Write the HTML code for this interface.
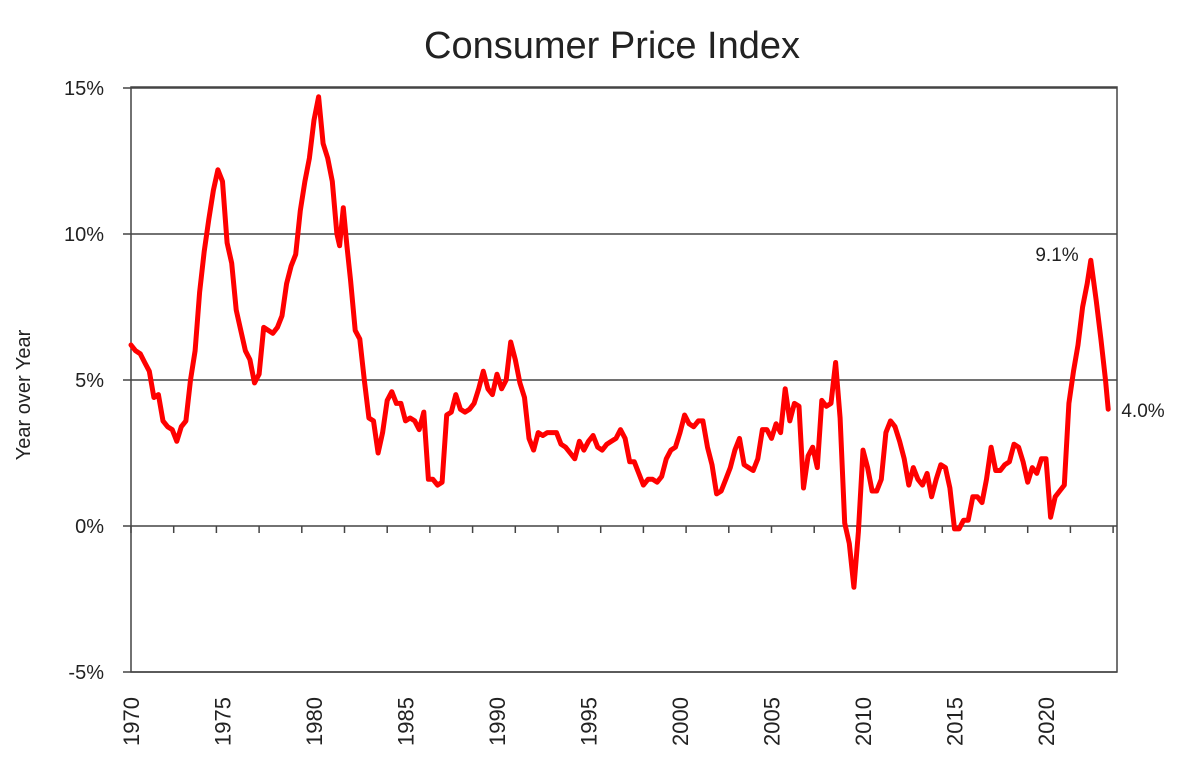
<!DOCTYPE html>
<html><head><meta charset="utf-8"><style>
body{margin:0;background:#fff;}
svg text{font-family:"Liberation Sans",sans-serif;fill:#222;}
</style></head><body>
<svg id="chart" width="1188" height="768" xmlns="http://www.w3.org/2000/svg">
<text x="612" y="58" font-size="38" text-anchor="middle">Consumer Price Index</text>
<text transform="translate(30,395) rotate(-90)" font-size="20" text-anchor="middle">Year over Year</text>
<g id="grid"></g><g id="axes"></g><g id="series"></g>
<text x="1057" y="261" font-size="19" text-anchor="middle">9.1%</text>
<text x="1143" y="417" font-size="19" text-anchor="middle">4.0%</text>
</svg>
<script>
const years=[1970,1970.25,1970.5,1970.75,1971,1971.25,1971.5,1971.75,1972,1972.25,1972.5,1972.75,1973,1973.25,1973.5,1973.75,1974,1974.25,1974.5,1974.75,1975,1975.25,1975.5,1975.75,1976,1976.25,1976.5,1976.75,1977,1977.25,1977.5,1977.75,1978,1978.25,1978.5,1978.75,1979,1979.25,1979.5,1979.75,1980,1980.25,1980.5,1980.75,1981,1981.25,1981.4,1981.6,1981.8,1982,1982.25,1982.5,1982.75,1983,1983.25,1983.5,1983.75,1984,1984.25,1984.5,1984.75,1985,1985.25,1985.5,1985.75,1986,1986.25,1986.5,1986.75,1987,1987.25,1987.5,1987.75,1988,1988.25,1988.5,1988.75,1989,1989.25,1989.5,1989.75,1990,1990.25,1990.5,1990.75,1991,1991.25,1991.5,1991.75,1992,1992.25,1992.5,1992.75,1993,1993.25,1993.5,1993.75,1994,1994.25,1994.5,1994.75,1995,1995.25,1995.5,1995.75,1996,1996.25,1996.5,1996.75,1997,1997.25,1997.5,1997.75,1998,1998.25,1998.5,1998.75,1999,1999.25,1999.5,1999.75,2000,2000.25,2000.5,2000.75,2001,2001.25,2001.5,2001.75,2002,2002.25,2002.5,2002.75,2003,2003.25,2003.5,2003.75,2004,2004.25,2004.5,2004.75,2005,2005.25,2005.5,2005.75,2006,2006.25,2006.5,2006.75,2007,2007.25,2007.5,2007.75,2008,2008.25,2008.5,2008.75,2009,2009.25,2009.5,2009.75,2010,2010.25,2010.5,2010.75,2011,2011.25,2011.5,2011.75,2012,2012.25,2012.5,2012.75,2013,2013.25,2013.5,2013.75,2014,2014.25,2014.5,2014.75,2015,2015.25,2015.5,2015.75,2016,2016.25,2016.5,2016.75,2017,2017.25,2017.5,2017.75,2018,2018.25,2018.5,2018.75,2019,2019.25,2019.5,2019.75,2020,2020.25,2020.5,2020.75,2021,2021.25,2021.5,2021.75,2022,2022.25,2022.45,2022.75,2023,2023.25,2023.4];
const cpi=[6.2,6.0,5.9,5.6,5.3,4.4,4.5,3.6,3.4,3.3,2.9,3.4,3.6,5.0,6.0,8.0,9.4,10.5,11.5,12.2,11.8,9.7,9.0,7.4,6.7,6.0,5.7,4.9,5.2,6.8,6.7,6.6,6.8,7.2,8.3,8.9,9.3,10.8,11.8,12.6,13.9,14.7,13.1,12.6,11.8,10.0,9.6,10.9,9.6,8.4,6.7,6.4,5.0,3.7,3.6,2.5,3.2,4.3,4.6,4.2,4.2,3.6,3.7,3.6,3.3,3.9,1.6,1.6,1.4,1.5,3.8,3.9,4.5,4.0,3.9,4.0,4.2,4.7,5.3,4.7,4.5,5.2,4.7,5.0,6.3,5.7,4.9,4.4,3.0,2.6,3.2,3.1,3.2,3.2,3.2,2.8,2.7,2.5,2.3,2.9,2.6,2.9,3.1,2.7,2.6,2.8,2.9,3.0,3.3,3.0,2.2,2.2,1.8,1.4,1.6,1.6,1.5,1.7,2.3,2.6,2.7,3.2,3.8,3.5,3.4,3.6,3.6,2.7,2.1,1.1,1.2,1.6,2.0,2.6,3.0,2.1,2.0,1.9,2.3,3.3,3.3,3.0,3.5,3.2,4.7,3.6,4.2,4.1,1.3,2.4,2.7,2.0,4.3,4.1,4.2,5.6,3.7,0.1,-0.6,-2.1,-0.2,2.6,2.0,1.2,1.2,1.6,3.2,3.6,3.4,2.9,2.3,1.4,2.0,1.6,1.4,1.8,1.0,1.6,2.1,2.0,1.3,-0.1,-0.1,0.2,0.2,1.0,1.0,0.8,1.6,2.7,1.9,1.9,2.1,2.2,2.8,2.7,2.2,1.5,2.0,1.8,2.3,2.3,0.3,1.0,1.2,1.4,4.2,5.3,6.2,7.5,8.3,9.1,7.7,6.4,5.0,4.0];
const yTicks=[15,10,5,0,-5];
const yTickLabels=["15%","10%","5%","0%","-5%"];
const xLabels=[1970,1975,1980,1985,1990,1995,2000,2005,2010,2015,2020];
const NS="http://www.w3.org/2000/svg";
const L=131,R=1117,T=87,B=672;
function xs(t){return L+(t-1970)*18.3;}
function ys(v){return 526-v*29.2;}
function mk(tag,attrs,parent){const e=document.createElementNS(NS,tag);for(const k in attrs)e.setAttribute(k,attrs[k]);parent.appendChild(e);return e;}
const grid=document.getElementById('grid'),axes=document.getElementById('axes'),series=document.getElementById('series');
yTicks.forEach((v,i)=>{
  const ln=mk('line',{x1:L-8,x2:R,y1:ys(v),y2:ys(v),stroke:'#444','stroke-width':1.5},grid);
  
  
  const tx=mk('text',{x:104,y:ys(v)+7,'font-size':20,'text-anchor':'end'},axes);
  tx.textContent=yTickLabels[i];
  
  
});
const frame=mk('rect',{x:L,y:T,width:R-L,height:B-T,fill:'none',stroke:'#444','stroke-width':1.5},axes);


for(let i=0;i<=23;i++){
  const x=L+i*42.7;
  const tk=mk('line',{x1:x,x2:x,y1:ys(0),y2:ys(0)+7,stroke:'#444','stroke-width':1.5},axes);
  
  
}
xLabels.forEach(yr=>{
  const x=xs(yr);
  const tx=mk('text',{transform:`translate(${x+8},746) rotate(-90)`,'font-size':22},axes);
  tx.textContent=yr;
  
  
});
const d=years.map((t,i)=>(i?'L':'M')+xs(t).toFixed(1)+' '+ys(cpi[i]).toFixed(1)).join(' ');
const p=mk('path',{d:d,fill:'none',stroke:'#ff0000','stroke-width':5,'stroke-linejoin':'round','stroke-linecap':'round'},series);


</script>
</body></html>
